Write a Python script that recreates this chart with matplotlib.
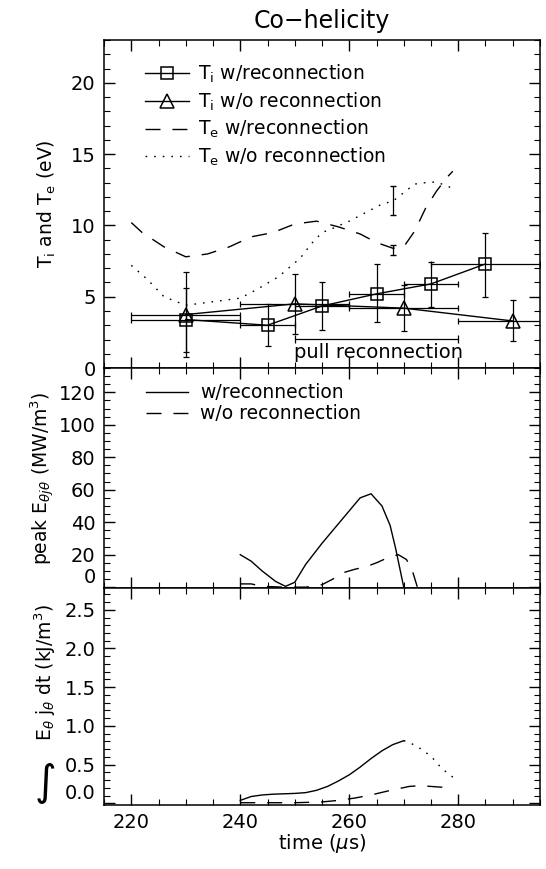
import matplotlib
matplotlib.use('Agg')
import matplotlib.pyplot as plt
from matplotlib.ticker import MultipleLocator, FormatStrFormatter

plt.rcParams['font.family'] = ['DejaVu Sans']
plt.rcParams['mathtext.fontset'] = 'dejavusans'

# ---------------- Top panel data (eV) ----------------
ti_rec_t = [230, 245, 255, 265, 275, 285]
ti_rec_v = [3.4, 3.0, 4.35, 5.2, 5.9, 7.3]
ti_rec_lo = [0.8, 1.55, 2.7, 3.2, 4.3, 5.0]
ti_rec_hi = [6.75, 4.5, 6.0, 7.3, 7.45, 9.5]
ti_rec_dt = [10, 5, 5, 5, 5, 10]

ti_norec_t = [230, 250, 270, 290]
ti_norec_v = [3.75, 4.5, 4.2, 3.3]
ti_norec_lo = [1.15, 2.4, 2.6, 1.9]
ti_norec_hi = [5.6, 6.6, 5.8, 4.75]
ti_norec_dt = [10, 10, 10, 10]

te_rec_t = [220, 222, 226, 230, 234, 238, 242, 246, 250, 254, 258, 262, 265, 268, 270, 272, 274, 276, 278, 279]
te_rec_v = [10.2, 9.5, 8.5, 7.8, 8.0, 8.5, 9.2, 9.5, 10.1, 10.3, 9.9, 9.4, 8.8, 8.4, 8.5, 9.6, 11.2, 12.4, 13.4, 13.8]
te_rec_err_t = [268]
te_rec_err_v = [8.25]
te_rec_err = [0.35]

te_norec_t = [220, 223, 226, 230, 234, 240, 243, 247, 251, 253, 255, 257, 260, 263, 266, 268, 270, 272, 274, 276, 279]
te_norec_v = [7.2, 6.2, 5.0, 4.4, 4.6, 4.9, 5.5, 6.4, 7.7, 8.7, 9.5, 9.8, 10.3, 10.9, 11.5, 11.7, 12.3, 12.9, 13.0, 13.05, 12.6]
te_norec_err_t = [268]
te_norec_err_v = [11.75]
te_norec_err = [1.05]

pull_t = [250, 280]
pull_level = 2.05

# ---------------- Middle panel data (MW/m^3) ----------------
pk_rec_t = [240, 242, 244, 246.5, 248.3, 250, 252, 255, 257.5, 260, 262, 264, 266, 267.5, 268.5, 270]
pk_rec_v = [20, 16, 10, 3.5, 0.5, 3, 14, 27, 37, 47, 55, 57.5, 50, 38, 24, 0]
pk_norec_t = [240, 242, 244, 248, 252, 255, 257, 259, 261, 263, 265, 267, 269, 270.5, 271.5, 272.5]
pk_norec_v = [2, 2, 0.5, 0, 0, 1.5, 5, 9, 11, 12.5, 15, 18, 20, 17, 11, 0]

# ---------------- Bottom panel data (kJ/m^3) ----------------
int_rec_t = [240, 242, 244, 246, 248, 250, 252, 254, 256, 258, 260, 262, 264, 266, 268, 270]
int_rec_v = [0.04, 0.09, 0.11, 0.12, 0.125, 0.13, 0.14, 0.17, 0.22, 0.29, 0.37, 0.47, 0.58, 0.68, 0.76, 0.81]
int_rec_ext_t = [270, 271, 273, 275, 277, 279]
int_rec_ext_v = [0.81, 0.79, 0.71, 0.61, 0.45, 0.34]
int_norec_t = [240, 245, 250, 255, 258, 261, 264, 267, 269, 271, 273, 275, 277, 279]
int_norec_v = [0.01, 0.01, 0.01, 0.02, 0.04, 0.07, 0.11, 0.16, 0.19, 0.22, 0.23, 0.22, 0.21, 0.21]

x_ticks = [220, 240, 260, 280]

DASH = (10.8, 8.6)
DOT = (1.2, 5.0)
FS = 13.5

fig = plt.figure(figsize=(5.46, 8.69), dpi=100)
L, W = 0.1905, 0.7985
ax1 = fig.add_axes([L, 0.5765, W, 0.3774])
ax2 = fig.add_axes([L, 0.3234, W, 0.2532])
ax3 = fig.add_axes([L, 0.0736, W, 0.2497])

for ax in (ax1, ax2, ax3):
    ax.set_xlim(215, 295)
    ax.set_xticks(x_ticks)
    ax.xaxis.set_minor_locator(MultipleLocator(5))
    ax.tick_params(which='both', direction='in', top=True, right=True, labelsize=14, pad=6)
    ax.tick_params(which='major', length=8, width=1)
    ax.tick_params(which='minor', length=4, width=0.8)
    for s in ax.spines.values():
        s.set_linewidth(1.1)
ax1.tick_params(labelbottom=False)
ax2.tick_params(labelbottom=False)

# ---- top panel ----
ax1.set_ylim(0, 23)
ax1.yaxis.set_major_locator(MultipleLocator(5))
ax1.yaxis.set_minor_locator(MultipleLocator(1))

yerr_r = [[v - lo for v, lo in zip(ti_rec_v, ti_rec_lo)], [hi - v for v, hi in zip(ti_rec_v, ti_rec_hi)]]
ax1.errorbar(ti_rec_t, ti_rec_v, xerr=ti_rec_dt, yerr=yerr_r, fmt='none', ecolor='k',
             elinewidth=0.9, capsize=2.5, capthick=0.9)
yerr_n = [[v - lo for v, lo in zip(ti_norec_v, ti_norec_lo)], [hi - v for v, hi in zip(ti_norec_v, ti_norec_hi)]]
ax1.errorbar(ti_norec_t, ti_norec_v, xerr=ti_norec_dt, yerr=yerr_n, fmt='none', ecolor='k',
             elinewidth=0.9, capsize=2.5, capthick=0.9)
ax1.plot(ti_rec_t, ti_rec_v, color='k', lw=1.0, marker='s', ms=9, mfc='none', mec='k', mew=1.1,
         label=r'T$_\mathrm{i}$ w/reconnection')
ax1.plot(ti_norec_t, ti_norec_v, color='k', lw=1.0, marker='^', ms=9.5, mfc='none', mec='k', mew=1.1,
         label=r'T$_\mathrm{i}$ w/o reconnection')
ax1.plot(te_rec_t, te_rec_v, color='k', lw=1.0, dashes=DASH, label=r'T$_\mathrm{e}$ w/reconnection')
ax1.plot(te_norec_t, te_norec_v, color='k', lw=1.0, dashes=DOT, label=r'T$_\mathrm{e}$ w/o reconnection')
ax1.errorbar(te_rec_err_t, te_rec_err_v, yerr=te_rec_err, fmt='none', ecolor='k', elinewidth=0.9, capsize=2.5)
ax1.errorbar(te_norec_err_t, te_norec_err_v, yerr=te_norec_err, fmt='none', ecolor='k', elinewidth=0.9, capsize=2.5)

pull_mid = (pull_t[0] + pull_t[1]) / 2
ax1.errorbar([pull_mid], [pull_level], xerr=[(pull_t[1] - pull_t[0]) / 2], fmt='none', ecolor='k',
             elinewidth=0.9, capsize=3, capthick=0.9)
ax1.text(pull_mid + 0.3, pull_level - 0.95, 'pull reconnection', ha='center', va='center', fontsize=14)

ax1.legend(loc='upper left', bbox_to_anchor=(0.095, 0.93), frameon=False, fontsize=FS,
           handlelength=2.3, handletextpad=0.5, labelspacing=0.28, borderaxespad=0, borderpad=0,
           numpoints=1)
ax1.set_ylabel(r'T$_\mathrm{i}$ and T$_\mathrm{e}$ (eV)', fontsize=FS)
ax1.yaxis.set_label_coords(-0.105, 0.5)
ax1.set_title('Co\u2212helicity', fontsize=17, pad=9)

# ---- middle panel ----
ax2.set_ylim(-0.5, 135)
ax2.yaxis.set_major_locator(MultipleLocator(20))
ax2.yaxis.set_minor_locator(MultipleLocator(5))
ax2.plot(pk_rec_t, pk_rec_v, color='k', lw=1.0, label='w/reconnection')
ax2.plot(pk_norec_t, pk_norec_v, color='k', lw=1.0, dashes=DASH, label='w/o reconnection')
ax2.legend(loc='upper left', bbox_to_anchor=(0.097, 0.93), frameon=False, fontsize=FS,
           handlelength=2.25, handletextpad=0.6, labelspacing=0.1, borderaxespad=0, borderpad=0)
ax2.set_ylabel(r'peak E$_{\theta j \theta}$ (MW/m$^3$)', fontsize=FS)
ax2.yaxis.set_label_coords(-0.108, 0.5)

# ---- bottom panel ----
ax3.set_ylim(-0.02, 2.78)
ax3.yaxis.set_major_locator(MultipleLocator(0.5))
ax3.yaxis.set_minor_locator(MultipleLocator(0.1))
ax3.yaxis.set_major_formatter(FormatStrFormatter('%.1f'))
ax3.plot(int_rec_t, int_rec_v, color='k', lw=1.0)
ax3.plot(int_rec_ext_t, int_rec_ext_v, color='k', lw=1.0, dashes=DOT)
ax3.plot(int_norec_t, int_norec_v, color='k', lw=1.0, dashes=DASH)
ax3.set_ylabel(r'E$_\theta$ j$_\theta$ dt (kJ/m$^3$)', fontsize=FS)
ax3.yaxis.set_label_coords(-0.105, 0.61)
ax3.text(-0.135, 0.1, '\u222b', transform=ax3.transAxes, rotation=0, fontsize=30,
         ha='center', va='center', family=['DejaVu Sans', 'Noto Sans', 'Liberation Sans'])
ax3.set_xlabel(r'time ($\mu$s)', fontsize=14, labelpad=0)

fig.canvas.draw()
for ax in (ax2, ax3):
    for lb in ax.get_yticklabels():
        if lb.get_text() in ('0', '0.0'):
            lb.set_verticalalignment('bottom')

fig.savefig('out.png', dpi=100)
